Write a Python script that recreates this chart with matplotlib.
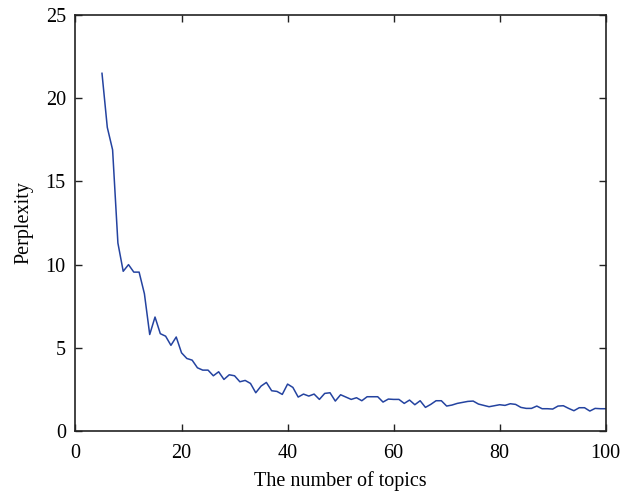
import matplotlib
matplotlib.use("Agg")
import matplotlib.pyplot as plt

# number of topics, 5..100
topics = list(range(5, 101))
perplexity = [
    21.5, 18.25, 16.9, 11.3, 9.6, 10.0, 9.55, 9.55, 8.25, 5.8,
    6.85, 5.85, 5.7, 5.15, 5.65, 4.7, 4.36, 4.26, 3.8, 3.66,
    3.66, 3.32, 3.56, 3.1, 3.38, 3.32, 2.96, 3.04, 2.86, 2.3,
    2.7, 2.92, 2.42, 2.38, 2.2, 2.82, 2.62, 2.04, 2.22, 2.1,
    2.22, 1.9, 2.26, 2.3, 1.8, 2.18, 2.04, 1.9, 2.0, 1.82,
    2.06, 2.06, 2.06, 1.74, 1.92, 1.9, 1.9, 1.66, 1.86, 1.58,
    1.82, 1.42, 1.6, 1.82, 1.82, 1.5, 1.56, 1.66, 1.72, 1.78,
    1.8, 1.62, 1.54, 1.46, 1.52, 1.58, 1.54, 1.64, 1.6, 1.42,
    1.36, 1.36, 1.5, 1.34, 1.34, 1.32, 1.5, 1.52, 1.36, 1.22,
    1.4, 1.4, 1.2, 1.36, 1.34, 1.34,
]

plt.rcParams["font.family"] = ["Liberation Serif", "DejaVu Serif"]
plt.rcParams["font.size"] = 14.5

fig = plt.figure(figsize=(6.29, 4.94), dpi=100)
ax = fig.add_axes([0.120, 0.1275, 0.843, 0.842])
ax.plot(topics, perplexity, color="#2443a0", linewidth=1.1)

ax.set_xlim(0, 100)
ax.set_ylim(0, 25)
ax.set_xticks([0, 20, 40, 60, 80, 100])
ax.set_yticks([0, 5, 10, 15, 20, 25])
ax.tick_params(direction="in", length=5, width=1, color="#222", top=True, right=True,
               labeltop=False, labelright=False)
ax.tick_params(axis="x", pad=9)
ax.tick_params(axis="y", pad=7)
for sp in ax.spines.values():
    sp.set_linewidth(1.2)
    sp.set_color("#222")
ax.set_xlabel("The number of topics", labelpad=6)
ax.set_ylabel("Perplexity", labelpad=9)

fig.savefig("out.png", dpi=100)
